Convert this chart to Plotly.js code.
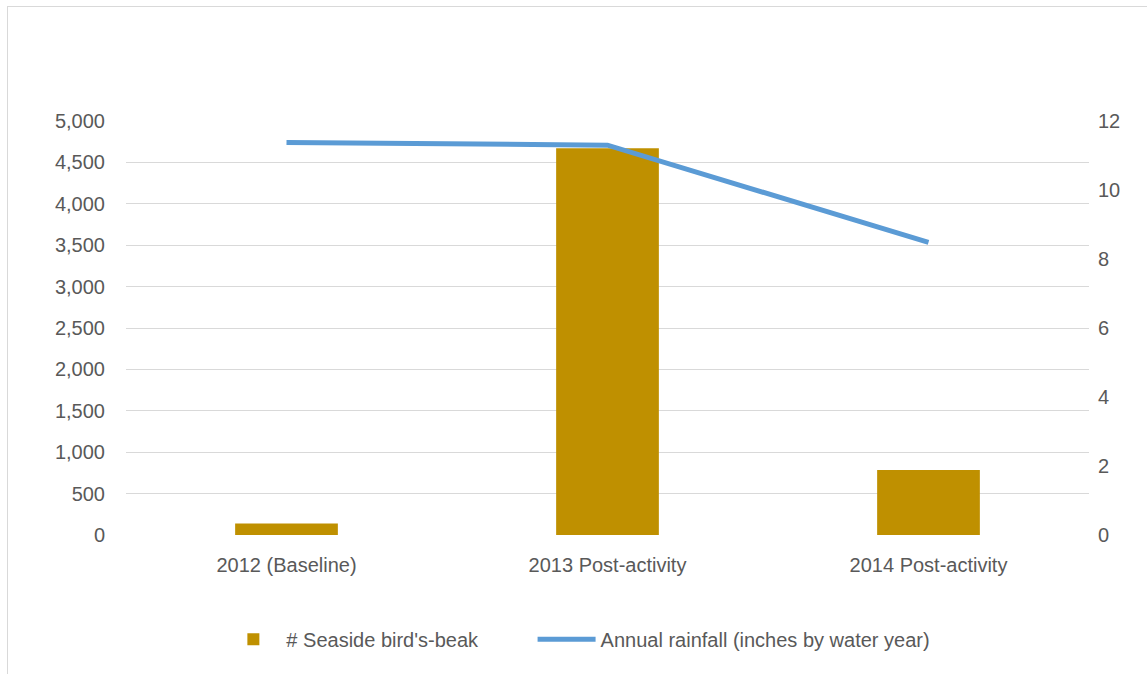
<!DOCTYPE html>
<html>
<head>
<meta charset="utf-8">
<script src="https://cdn.plot.ly/plotly-3.0.1.min.js"></script>
<style>
html,body{margin:0;padding:0;background:#fff;}
#wrap{position:relative;width:1147px;height:674px;}
#chart{position:absolute;left:0;top:0;width:1147px;height:674px;}
#frame{position:absolute;left:7px;top:6px;width:1145px;height:672px;border:1px solid #d9d9d9;box-sizing:border-box;pointer-events:none;}
</style>
</head>
<body>
<div id="wrap"><div id="chart"></div><div id="frame"></div></div>
<script>
const categories = ["2012 (Baseline)", "2013 Post-activity", "2014 Post-activity"];
const birdsBeak = [140, 4670, 785];
const rainfall = [11.38, 11.30, 8.48];
const leftTicks = [0, 500, 1000, 1500, 2000, 2500, 3000, 3500, 4000, 4500, 5000];
const rightTicks = [0, 2, 4, 6, 8, 10, 12];

const FONT = "'Liberation Sans Narrow', 'Arial Narrow', 'Liberation Sans', Arial, sans-serif";
const TXT = "#595959";

const traces = [
  {
    type: "bar",
    name: "# Seaside bird's-beak",
    x: categories,
    y: birdsBeak,
    marker: {color: "#BF9000"},
    width: 0.32,
    yaxis: "y",
    legend: "legend",
    hoverinfo: "x+y"
  },
  {
    type: "scatter",
    mode: "lines",
    name: "Annual rainfall (inches by water year)",
    x: categories,
    y: rainfall,
    line: {color: "#5B9BD5", width: 5},
    yaxis: "y2",
    legend: "legend2"
  }
];

const legendBase = {
  orientation: "h",
  y: -0.205, yanchor: "top",
  xanchor: "left",
  font: {family: FONT, size: 20, color: TXT},
  bgcolor: "rgba(0,0,0,0)"
};

const layout = {
  width: 1147,
  height: 674,
  margin: {l: 126, r: 58, t: 121, b: 139},
  paper_bgcolor: "rgba(0,0,0,0)",
  plot_bgcolor: "#fff",
  font: {family: FONT, size: 20, color: TXT},
  showlegend: true,
  legend: Object.assign({}, legendBase, {x: 0.098, itemwidth: 56}),
  legend2: Object.assign({}, legendBase, {x: 0.4222, itemwidth: 58}),
  xaxis: {
    type: "category",
    showgrid: false,
    showline: false,
    zeroline: false,
    ticks: "",
    ticklabelstandoff: 16,
    tickfont: {family: FONT, size: 20, color: TXT}
  },
  yaxis: {
    range: [0, 5000],
    tickvals: leftTicks,
    ticktext: leftTicks.map(v => v.toLocaleString("en-US")),
    showgrid: true,
    gridcolor: "#d9d9d9",
    gridwidth: 1,
    zeroline: false,
    showline: false,
    ticks: "",
    ticklabelstandoff: 20,
    tickfont: {family: FONT, size: 20, color: TXT}
  },
  yaxis2: {
    range: [0, 12],
    tickvals: rightTicks,
    overlaying: "y",
    side: "right",
    showgrid: false,
    zeroline: false,
    showline: false,
    ticks: "",
    ticklabelstandoff: 8,
    tickfont: {family: FONT, size: 20, color: TXT}
  }
};

Plotly.newPlot("chart", traces, layout, {displayModeBar: false, staticPlot: true});
</script>
</body>
</html>
